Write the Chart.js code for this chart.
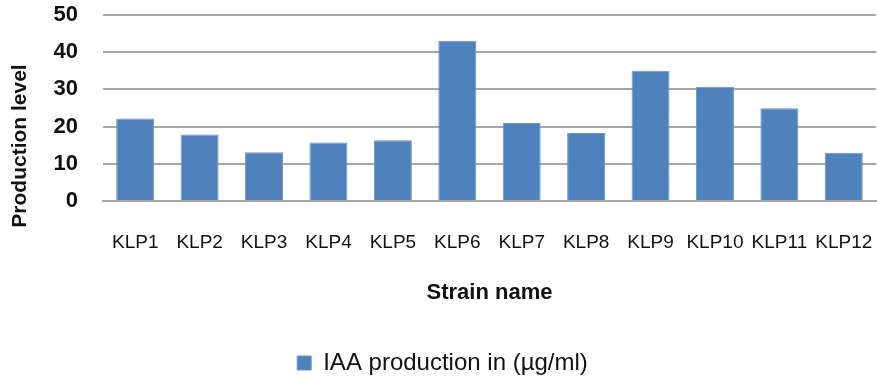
<!DOCTYPE html>
<html>
<head>
<meta charset="utf-8">
<script src="https://cdn.jsdelivr.net/npm/chart.js@4/dist/chart.umd.min.js"></script>
<style>
  html, body { margin: 0; padding: 0; background: #ffffff; }
  #wrap { position: relative; width: 877px; height: 376px; }
</style>
</head>
<body>
<div id="wrap"><canvas id="c"></canvas></div>
<script>
// Strain names on the category axis
const strains = ['KLP1', 'KLP2', 'KLP3', 'KLP4', 'KLP5', 'KLP6', 'KLP7', 'KLP8', 'KLP9', 'KLP10', 'KLP11', 'KLP12'];
// IAA production per strain (µg/ml)
const iaaProduction = [22.2, 17.9, 13.1, 15.7, 16.3, 43.1, 21.0, 18.3, 35.0, 30.7, 24.9, 13.0];
const seriesName = 'IAA production in (µg/ml)';
const yTitle = 'Production level';
const xTitle = 'Strain name';

const FONT = "'Liberation Sans', Arial, sans-serif";
const TEXT = '#111111';

// Vertical axis title, drawn rotated left of the tick labels and set a little
// below the middle of the plot, where the axis title usually sits.
const yTitlePlugin = {
  id: 'yTitle',
  afterDraw(chart) {
    const { ctx, chartArea } = chart;
    ctx.save();
    ctx.font = `bold 21px ${FONT}`;
    ctx.fillStyle = TEXT;
    ctx.textAlign = 'center';
    ctx.textBaseline = 'middle';
    ctx.translate(20, chartArea.bottom - 55);
    ctx.rotate(-Math.PI / 2);
    ctx.fillText(yTitle, 0, 0);
    ctx.restore();
  }
};

new Chart(document.getElementById('c'), {
  type: 'bar',
  data: {
    labels: strains,
    datasets: [{
      label: seriesName,
      data: iaaProduction,
      backgroundColor: '#4f81bd',
      borderColor: '#6d97cc',
      borderWidth: 1,
      categoryPercentage: 1.0,
      barPercentage: 0.59
    }]
  },
  plugins: [yTitlePlugin],
  options: {
    responsive: true,
    maintainAspectRatio: false,
    animation: false,
    devicePixelRatio: 1,
    layout: { padding: { top: 15, right: 1, bottom: -9, left: 9 } },
    scales: {
      x: {
        afterFit: (s) => { s.height = 150; s.paddingLeft = 0; s.paddingRight = 0; },
        grid: { display: false },
        border: { display: true, color: '#a6a6a6', width: 2 },
        ticks: {
          color: TEXT,
          font: { family: FONT, size: 19 },
          maxRotation: 0,
          autoSkip: false,
          padding: 22
        },
        title: {
          display: true,
          text: xTitle,
          color: TEXT,
          font: { family: FONT, size: 22, weight: 'bold' },
          padding: { top: 20, bottom: 45 }
        }
      },
      y: {
        min: 0,
        max: 50,
        afterFit: (s) => { s.width = 94; s.paddingTop = 0; s.paddingBottom = 0; },
        grid: { color: '#a6a6a6', lineWidth: 2, drawTicks: false },
        border: { display: false },
        ticks: {
          stepSize: 10,
          autoSkip: false,
          color: TEXT,
          font: { family: FONT, size: 22, weight: 'bold' },
          padding: 25
        },
        title: { display: false }
      }
    },
    plugins: {
      legend: {
        position: 'bottom',
        labels: {
          color: TEXT,
          font: { family: FONT, size: 24 },
          boxWidth: 14,
          boxHeight: 14,
          padding: 0
        }
      },
      tooltip: { enabled: false }
    }
  }
});
</script>
</body>
</html>
